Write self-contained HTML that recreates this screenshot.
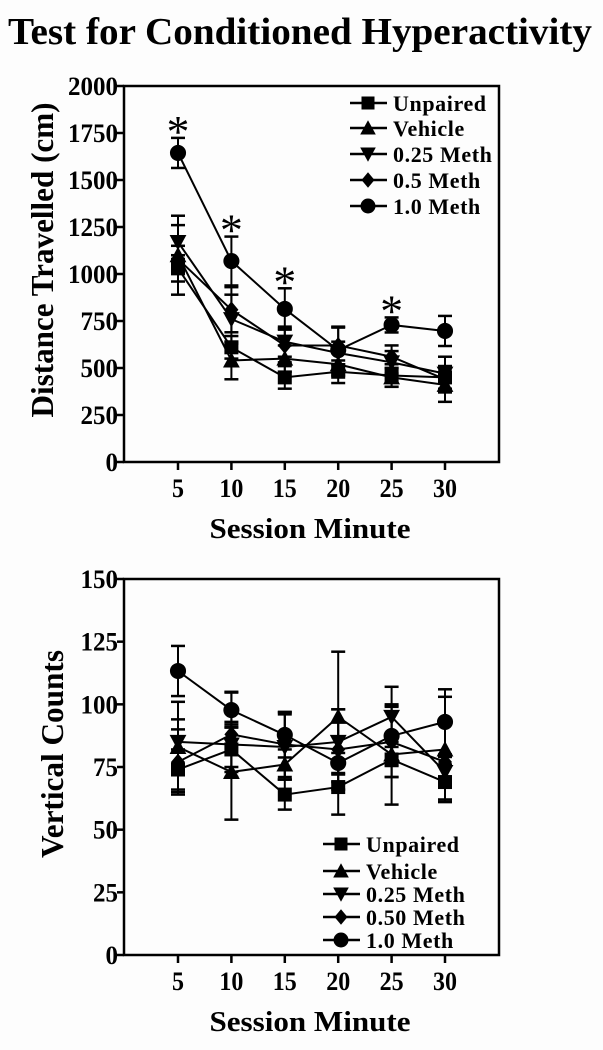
<!DOCTYPE html>
<html><head><meta charset="utf-8"><style>
body{margin:0;background:#fdfdfd;}
svg{display:block;font-family:"Liberation Serif",serif;font-weight:bold;}
</style></head><body>
<svg id="fig" width="603" height="1050" viewBox="0 0 603 1050">
<text x="300" y="44" text-anchor="middle" font-size="38" textLength="584" lengthAdjust="spacingAndGlyphs">Test for Conditioned Hyperactivity</text>
</svg>
<script>
const minutes=[5,10,15,20,25,30];
const seriesNames1=["Unpaired","Vehicle","0.25 Meth","0.5 Meth","1.0 Meth"];
const seriesNames2=["Unpaired","Vehicle","0.25 Meth","0.50 Meth","1.0 Meth"];
const markers=["square","triangle","tridown","diamond","circle"];
const distUnpaired=[1030,610,450,480,460,450];
const distVehicle=[1100,540,550,520,450,410];
const dist025=[1170,760,640,580,530,470];
const dist05=[1080,810,620,620,560,440];
const dist10=[1644,1069,814,595,729,697];
const distErrUnpaired=[70,60,60,60,60,60];
const distErrVehicle=[210,100,70,60,50,90];
const distErr025=[90,130,80,60,60,90];
const distErr05=[70,120,90,100,60,70];
const distErr10=[80,130,110,120,40,80];
const distStars=[1,1,1,0,1,0];
const distTicks=[0,250,500,750,1000,1250,1500,1750,2000];
const vertUnpaired=[74,82,64,67,78,69];
const vertVehicle=[83,73,76,95,80,82];
const vert025=[85,84,83,85,95,73];
const vert05=[77,88,84,82,85,77];
const vert10=[113.3,97.7,87.8,76.6,87.4,93];
const vertErrUnpaired=[8,9,6,11,7,7];
const vertErrVehicle=[18,19,6,26,20,21];
const vertErr025=[9,9,13,13,12,6];
const vertErr05=[13,17,13,16,14,15];
const vertErr10=[10,7,9,4,12,13];
const vertTicks=[0,25,50,75,100,125,150];

const NS="http://www.w3.org/2000/svg";
const svg=document.getElementById('fig');
function mk(tag,attrs,parent){const e=document.createElementNS(NS,tag);for(const k in attrs)e.setAttribute(k,attrs[k]);(parent||svg).appendChild(e);return e;}

function marker(g,type,cx,cy,s){
  let e;
  if(type==="square")e=mk('rect',{x:cx-s,y:cy-s,width:2*s,height:2*s,fill:'#000'},g);
  else if(type==="circle")e=mk('circle',{cx:cx,cy:cy,r:s*1.15,fill:'#000'},g);
  else if(type==="triangle")e=mk('polygon',{points:`${cx},${cy-s*1.2} ${cx+s*1.2},${cy+s} ${cx-s*1.2},${cy+s}`,fill:'#000'},g);
  else if(type==="tridown")e=mk('polygon',{points:`${cx},${cy+s*1.2} ${cx+s*1.2},${cy-s} ${cx-s*1.2},${cy-s}`,fill:'#000'},g);
  else e=mk('polygon',{points:`${cx},${cy-s*1.2} ${cx+s},${cy} ${cx},${cy+s*1.2} ${cx-s},${cy}`,fill:'#000'},g);
  
  
}

function chart(cfg){
  const L=124,R=499,T=cfg.top,B=cfg.top+376;
  const x=m=>178+(m-5)*(445-178)/25;
  const y=v=>B-(v/cfg.ymax)*(B-T);
  const g=mk('g',{});
  
  
  const frame=mk('rect',{x:L,y:T,width:R-L,height:B-T,fill:'none',stroke:'#000','stroke-width':2.5},g);
  
  
  cfg.ticks.forEach(t=>{
    mk('line',{x1:L-7,x2:L,y1:y(t),y2:y(t),stroke:'#000','stroke-width':2.5},g);
    const s=String(t);
    const tx=mk('text',{x:L-6,y:y(t)+9,'text-anchor':'end','font-size':26,textLength:s.length*12.5,lengthAdjust:'spacingAndGlyphs'},g);
    tx.textContent=s;
    
    
  });
  minutes.forEach(m=>{
    mk('line',{x1:x(m),x2:x(m),y1:B,y2:B+8,stroke:'#000','stroke-width':2.5},g);
    const s=String(m);
    const tx=mk('text',{x:x(m),y:B+35,'text-anchor':'middle','font-size':26,textLength:s.length*12,lengthAdjust:'spacingAndGlyphs'},g);
    tx.textContent=s;
    
    
  });
  const xt=mk('text',{x:310,y:B+76,'text-anchor':'middle','font-size':29,textLength:201,lengthAdjust:'spacingAndGlyphs'},g);
  xt.textContent="Session Minute";
  
  
  const yt=mk('text',{x:0,y:11,'text-anchor':'middle','font-size':32,textLength:cfg.ylen,lengthAdjust:'spacingAndGlyphs',transform:`translate(${cfg.ytx},${cfg.yty}) rotate(-90)`},g);
  yt.textContent=cfg.ytitle;
  
  
  cfg.series.forEach((vals,i)=>{
    const sg=mk('g',{},g);
    
    
    const err=cfg.errs[i];
    vals.forEach((v,j)=>{
      const cx=x(minutes[j]),hi=y(v+err[j]),lo=y(v-err[j]);
      mk('line',{x1:cx,x2:cx,y1:hi,y2:lo,stroke:'#000','stroke-width':2},sg);
      mk('line',{x1:cx-7,x2:cx+7,y1:hi,y2:hi,stroke:'#000','stroke-width':2.5},sg);
      mk('line',{x1:cx-7,x2:cx+7,y1:lo,y2:lo,stroke:'#000','stroke-width':2.5},sg);
    });
    const line=mk('polyline',{points:vals.map((v,j)=>x(minutes[j])+','+y(v)).join(' '),fill:'none',stroke:'#000','stroke-width':2},sg);
    
    
    vals.forEach((v,j)=>marker(sg,markers[i],x(minutes[j]),y(v),7));
  });
  if(cfg.stars){
    cfg.stars.forEach((s,j)=>{
      if(!s)return;
      const v=dist10[j]+distErr10[j];
      const st=mk('text',{x:x(minutes[j]),y:y(v)+9,'text-anchor':'middle','font-size':46,'font-weight':'normal'},g);
      st.textContent="*";
      
      
    });
  }
  const lg=mk('g',{},g);
  
  
  cfg.names.forEach((n,i)=>{
    const ly=cfg.legY[i],lx=cfg.legX;
    const eg=mk('g',{},lg);
    
    
    mk('line',{x1:lx,x2:lx+37,y1:ly,y2:ly,stroke:'#000','stroke-width':2.5},eg);
    marker(eg,markers[i],lx+18,ly,6.5);
    const t=mk('text',{x:lx+43,y:ly+8,'font-size':22,'letter-spacing':'0.6'},eg);
    t.textContent=n;
  });
}
chart({name:'distance-chart',top:86,ymax:2000,ticks:distTicks,ytitle:'Distance Travelled (cm)',ytx:42,yty:260,ylen:315,
  series:[distUnpaired,distVehicle,dist025,dist05,dist10],errs:[distErrUnpaired,distErrVehicle,distErr025,distErr05,distErr10],
  names:seriesNames1,stars:distStars,legX:350,legY:[103,128,154,180,206]});
chart({name:'vertical-counts-chart',top:579,ymax:150,ticks:vertTicks,ytitle:'Vertical Counts',ytx:52,yty:754,ylen:208,
  series:[vertUnpaired,vertVehicle,vert025,vert05,vert10],errs:[vertErrUnpaired,vertErrVehicle,vertErr025,vertErr05,vertErr10],
  names:seriesNames2,stars:null,legX:323,legY:[844,871,894,917,940]});
</script>
</body></html>
